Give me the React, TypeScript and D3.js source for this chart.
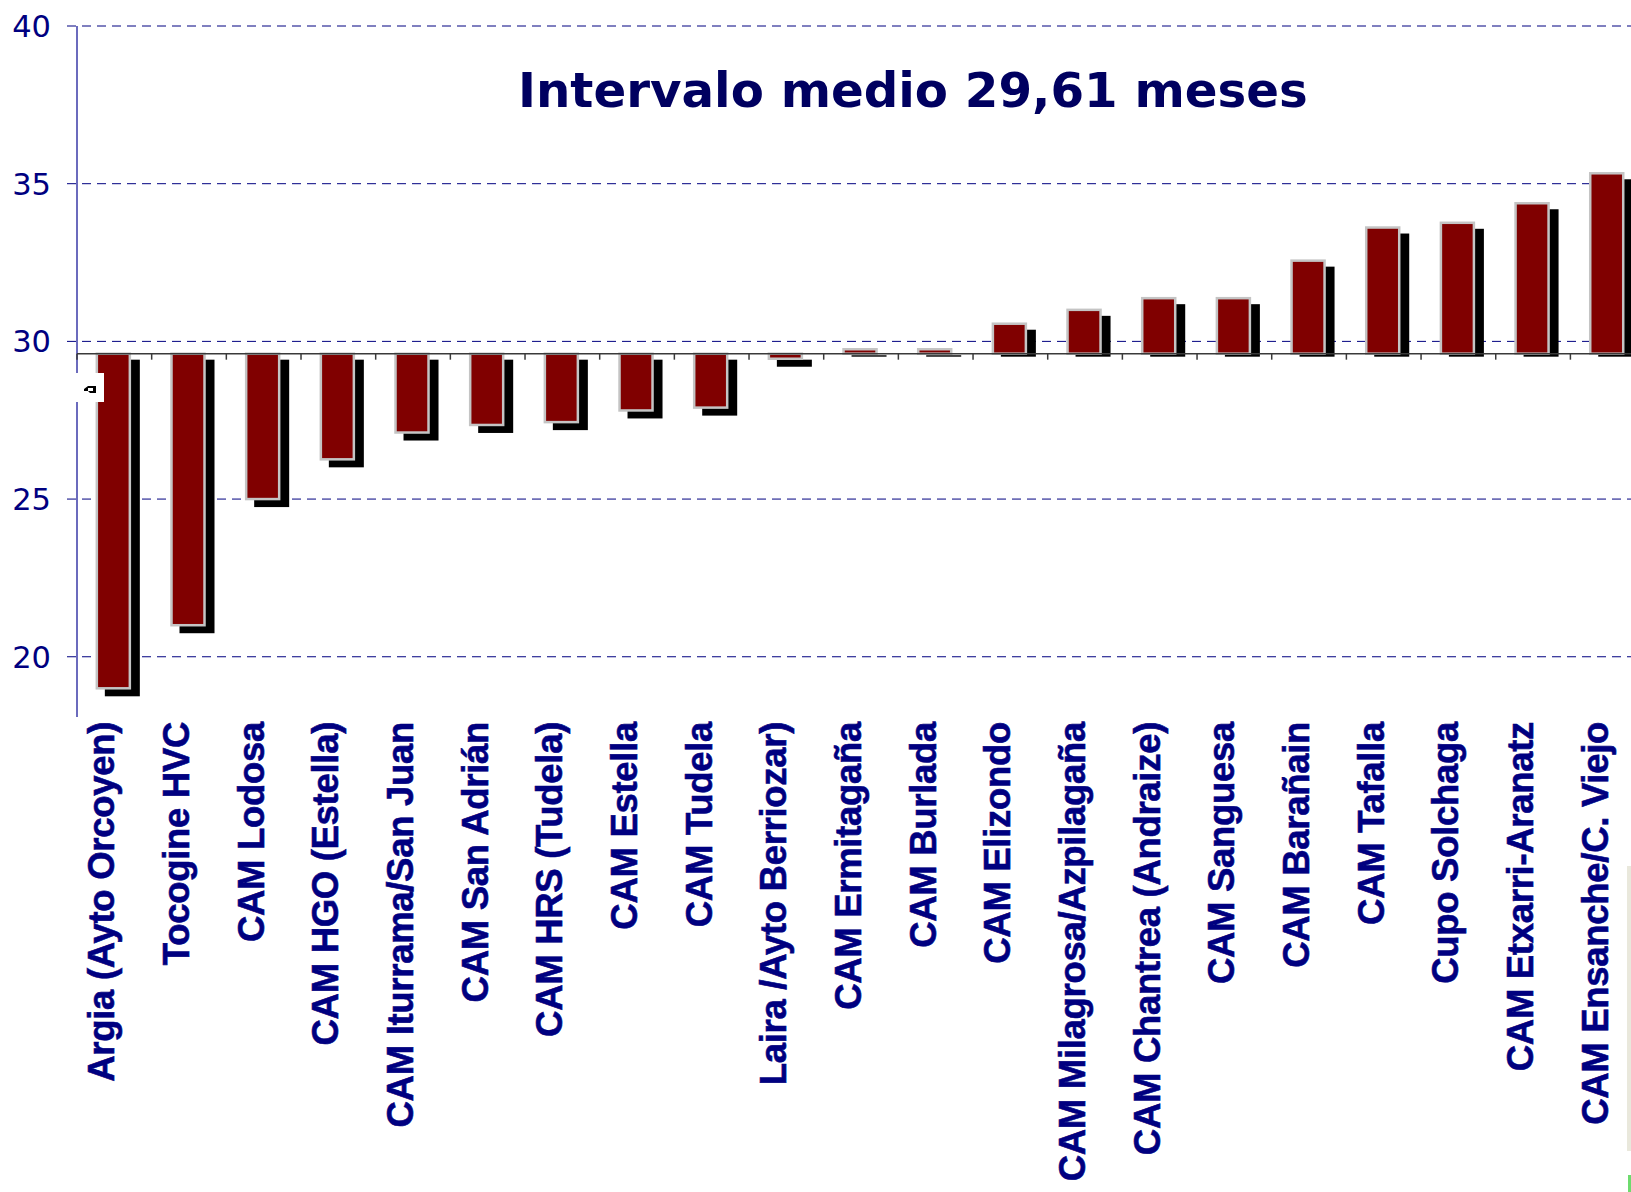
import React from 'react';
import * as d3 from 'd3';

// centros, ordenados de menor a mayor intervalo
const categories = [
    'Argia (Ayto Orcoyen)',
    'Tocogine HVC',
    'CAM Lodosa',
    'CAM HGO (Estella)',
    'CAM Iturrama/San Juan',
    'CAM San Adrián',
    'CAM HRS (Tudela)',
    'CAM Estella',
    'CAM Tudela',
    'Laira /Ayto Berriozar)',
    'CAM Ermitagaña',
    'CAM Burlada',
    'CAM Elizondo',
    'CAM Milagrosa/Azpilagaña',
    'CAM Chantrea (Andraize)',
    'CAM Sanguesa',
    'CAM Barañain',
    'CAM Tafalla',
    'Cupo Solchaga',
    'CAM Etxarri-Aranatz',
    'CAM Ensanche/C. Viejo',
];

// intervalo en meses
const values = [
    19.0, 21.0, 25.0, 26.26, 27.11, 27.35, 27.44, 27.81, 27.9, 29.45, 29.75,
    29.75, 30.56, 31.0, 31.37, 31.37, 32.56, 33.61, 33.76, 34.38, 35.33,
];

const yTicks = [20, 25, 30, 35, 40];
const meanValue = 29.61;
const titleText = 'Intervalo medio 29,61 meses';

const App = () => {
    const width = 1631;
    const height = 1192;

    const plotLeft = 77;
    const bandW = 74.67;

    const x = d3.scaleBand<string>()
        .domain(categories)
        .range([plotLeft, plotLeft + bandW * categories.length])
        .padding(0);

    const y = d3.scaleLinear().domain([18.09, 40]).range([717, 26]);

    const base = y(meanValue);
    const barW = 33;
    const navy = '#000080';

    return (
        <svg width={width} height={height}
            style={{ position: 'absolute', left: 0, top: 0, display: 'block', background: 'white' }}>
            {/* gridlines */}
            {yTicks.map(t => (
                <g key={t}>
                    <line x1={67} x2={width} y1={y(t)} y2={y(t)}
                        stroke={navy} strokeWidth={1} strokeDasharray="9,6" />
                    <text x={51} y={y(t)} dy="0.36em" textAnchor="end"
                        fontFamily="'DejaVu Sans', Verdana, sans-serif" fontSize={30.5} fill={navy}>{t}</text>
                </g>
            ))}

            {/* y axis */}
            <line x1={plotLeft} x2={plotLeft} y1={y(40)} y2={y.range()[0]} stroke="#6b6bbd" strokeWidth={2} />

            {/* shadows */}
            {categories.map((c, i) => {
                const v = values[i];
                const yv = y(v);
                const bx = (x(c) as number) + (bandW - barW) / 2 - 1;
                const top = Math.min(yv, base) + 6;
                const bottom = Math.max(yv, base) + (v >= meanValue ? 3 : 8);
                return <rect key={'s' + c} x={bx + 8} y={top} width={barW + 2} height={bottom - top} fill="#000" />;
            })}

            {/* bars */}
            {categories.map((c, i) => {
                const v = values[i];
                const yv = y(v);
                const bx = (x(c) as number) + (bandW - barW) / 2 - 1;
                return (
                    <rect key={'b' + c} x={bx} y={Math.min(yv, base)} width={barW}
                        height={Math.abs(yv - base)} fill="#800000"
                        stroke="#c4c4c4" strokeWidth={2.5} />
                );
            })}

            {/* category axis at the mean */}
            <line x1={plotLeft} x2={width} y1={base} y2={base} stroke="#3a3a3a" strokeWidth={1.5} />
            {categories.map(c => (
                <line key={'t' + c} x1={x(c)} x2={x(c)} y1={base} y2={base + 6} stroke="#3a3a3a" strokeWidth={1.5} />
            ))}

            {/* category labels */}
            {categories.map(c => {
                const cx = (x(c) as number) + bandW / 2;
                return (
                    <text key={'l' + c} transform={`translate(${cx},722) rotate(-90)`} textAnchor="end"
                        fontFamily="'Liberation Sans', Arial, sans-serif" fontWeight="bold"
                        fontSize={36.5} fill={navy} stroke={navy} strokeWidth={0.6}
                        letterSpacing={-0.3}>{c}</text>
                );
            })}

            {/* title */}
            <text x={518} y={106.7} fontFamily="'DejaVu Sans', Verdana, sans-serif" fontWeight="bold"
                fontSize={48.3} fill="#000060">{titleText}</text>

            {/* small white patch with cursor mark over the axis */}
            <rect x={76} y={373} width={28} height={29} fill="#fff" />
            <path d="M84,389 L88,386 L96,386 L96,393 L90,393 L88,391 L84,391 Z" fill="#000" />
            <rect x={88} y={388} width={5} height={3} fill="#fff" />

            {/* right edge strip */}
            <rect x={1627} y={866} width={4} height={285} fill="#e9e8dc" />
            <rect x={1628} y={1175} width={3} height={17} fill="#6edb6e" />
        </svg>
    );
};

export default App;
